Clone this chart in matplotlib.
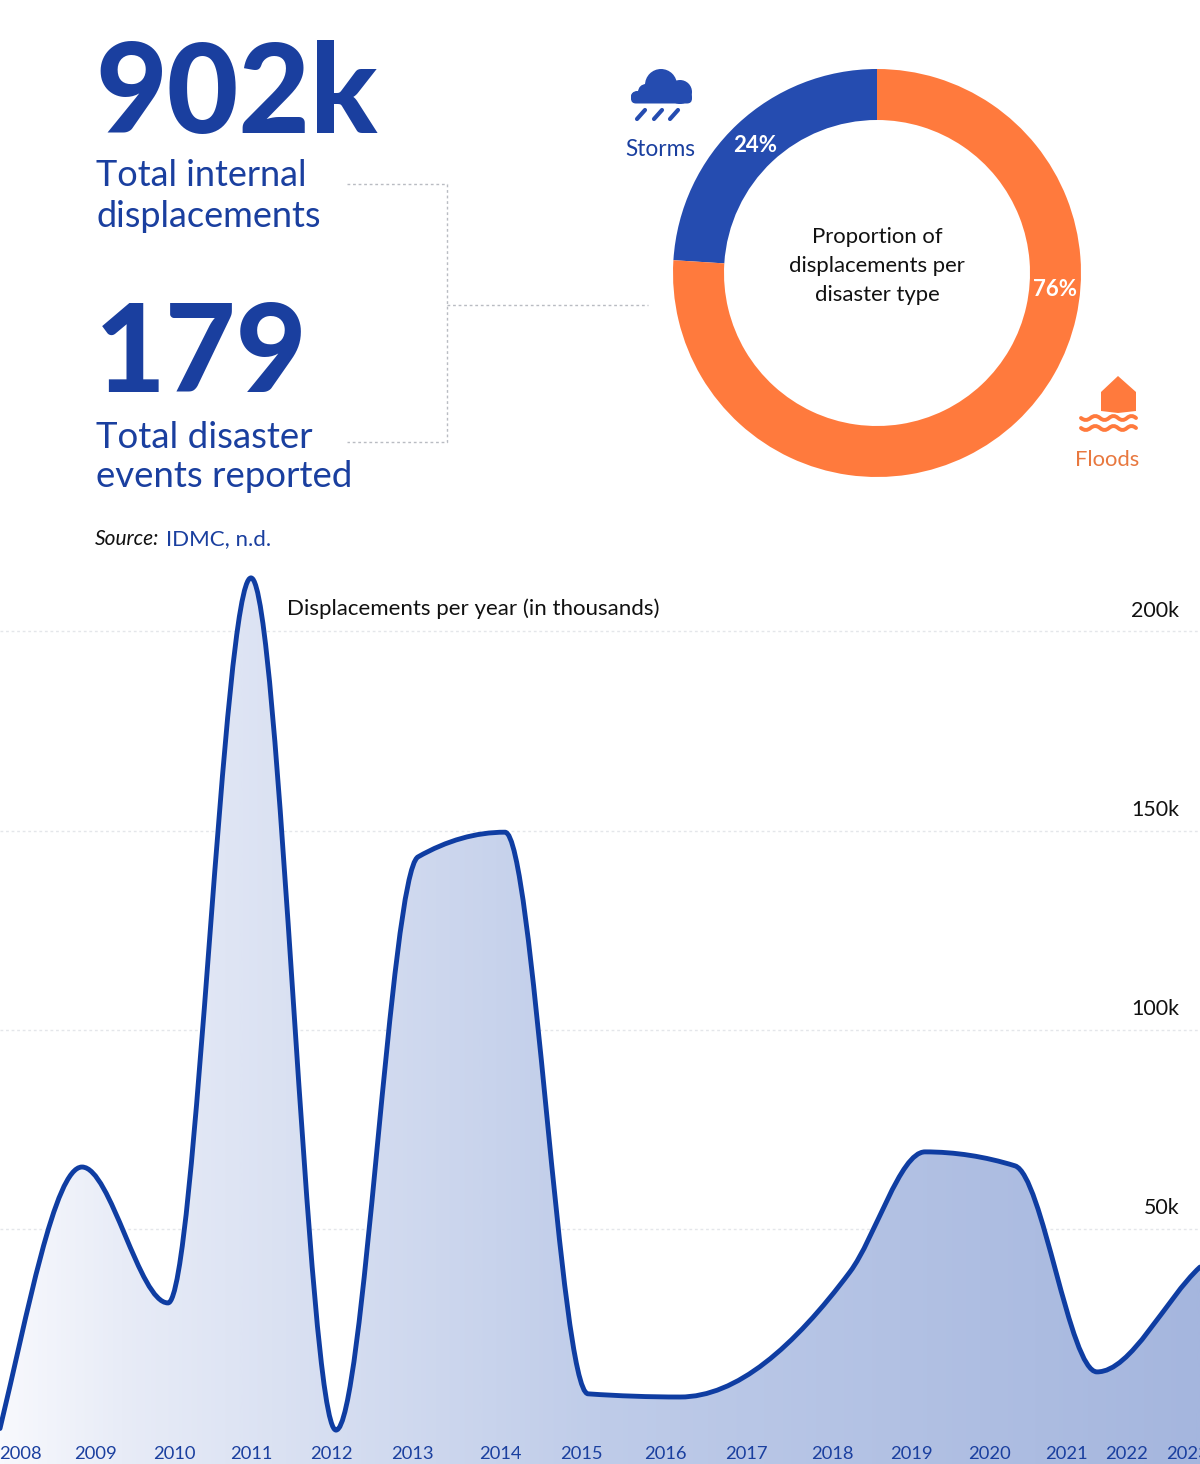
import numpy as np
import matplotlib
matplotlib.use("Agg")
import matplotlib.pyplot as plt
from matplotlib.path import Path
from matplotlib.patches import PathPatch, Circle, Polygon, FancyBboxPatch
from matplotlib.colors import LinearSegmentedColormap

plt.rcParams['font.family'] = ['Lato', 'DejaVu Sans']

# ---------- data ----------
headline_values = ["902k", "179"]
headline_labels = ["Total internal\ndisplacements", "Total disaster\nevents reported"]
donut_labels = ["Storms", "Floods"]
donut_shares = [24, 76]
years = ["2008", "2009", "2010", "2011", "2012", "2013", "2014", "2015",
         "2016", "2017", "2018", "2019", "2020", "2021", "2022", "2023"]
year_ticks = [20, 95, 174, 251, 331, 412, 500, 581,
              665, 746, 832, 911, 989, 1066, 1127, 1188]
curve_x = [0, 82, 168, 251, 336, 418, 505, 588, 680, 850, 925, 1015, 1097, 1200]
curve_k = [0, 65.6, 31.5, 213.4, -0.4, 143.4, 149.6, 8.7, 7.9, 39.3, 69.4, 65.9, 14.2, 40.5]
grid_k = [50, 100, 150, 200]
grid_labels = ["50k", "100k", "150k", "200k"]

BLUE = "#1a3f9f"
LINE = "#0f3da2"
DONUT_BLUE = "#254cb0"
ORANGE = "#ff7a3d"
FLOOD_TXT = "#e8783f"


def monotone_path(x, y):
    """Monotone-x cubic through the points, as Bezier segments."""
    x, y = np.asarray(x, float), np.asarray(y, float)
    h = np.diff(x)
    s = np.diff(y) / h
    m = np.zeros_like(x)
    for i in range(1, len(x) - 1):
        if s[i - 1] * s[i] > 0:
            p = (s[i - 1] * h[i] + s[i] * h[i - 1]) / (h[i - 1] + h[i])
            m[i] = np.sign(s[i]) * min(abs(s[i - 1]), abs(s[i]), 0.5 * abs(p)) * 2
    m[0] = 1.3 * s[0]
    m[-1] = 0.9 * s[-1]
    verts = [(x[0], y[0])]
    codes = [Path.MOVETO]
    for i in range(len(h)):
        verts += [(x[i] + h[i] / 3, y[i] + m[i] * h[i] / 3),
                  (x[i + 1] - h[i] / 3, y[i + 1] - m[i + 1] * h[i] / 3),
                  (x[i + 1], y[i + 1])]
        codes += [Path.CURVE4] * 3
    return verts, codes


fig = plt.figure(figsize=(12, 14.64), dpi=100, facecolor="white")
W, H = 1200, 1464

# ---------- area chart ----------
top_px, zero_px, per_k = 560, 1428.5, 3.986
ax = fig.add_axes([0, 0, 1, (H - top_px) / H])
ax.set_xlim(0, W)
ax.set_ylim((zero_px - H) / per_k, (zero_px - top_px) / per_k)
ax.axis("off")
for g in grid_k:
    ax.axhline(g, color="#e4e6ea", lw=1, ls=(0, (2, 2)), zorder=1)

verts, codes = monotone_path(curve_x, curve_k)
ymin = ax.get_ylim()[0]
fill_path = Path(verts + [(curve_x[-1], ymin), (curve_x[0], ymin), (curve_x[0], curve_k[0])],
                 codes + [Path.LINETO, Path.LINETO, Path.CLOSEPOLY])
cmap = LinearSegmentedColormap.from_list(
    "g", [(0, "#f8f9fd"), (0.1, "#e8ecf7"), (0.5, "#bfcce9"), (1, "#a5b6de")])
im = ax.imshow(np.linspace(0, 1, 512)[None, :], extent=[0, W, ymin, ax.get_ylim()[1]],
               aspect="auto", cmap=cmap, zorder=2)
im.set_clip_path(PathPatch(fill_path, transform=ax.transData))
ax.add_patch(PathPatch(Path(verts, codes), fc="none", ec=LINE, lw=3.5, zorder=3,
                       capstyle="round", joinstyle="round"))
ax.set_xlim(0, W)
ax.set_ylim(ymin, (zero_px - top_px) / per_k)

for yr, xt in zip(years, year_ticks):
    ax.text(xt, ymin + 2.6, yr, ha="center", va="center", fontsize=13.2, color=BLUE, zorder=4)
for g, lab in zip(grid_k, grid_labels):
    ax.text(1179, g + 5.2, lab, ha="right", va="center", fontsize=15.4, color="#111111", zorder=4)

# ---------- donut ----------
cx, cy, R = 877, 273, 204
dax = fig.add_axes([(cx - R) / W, 1 - (cy + R) / H, 2 * R / W, 2 * R / H])
dax.pie(donut_shares, colors=[DONUT_BLUE, ORANGE], startangle=90, counterclock=True,
        radius=1, wedgeprops=dict(width=51 / 204, linewidth=0))
dax.set_xlim(-1, 1)
dax.set_ylim(-1, 1)

# ---------- overlay in pixel coordinates ----------
ov = fig.add_axes([0, 0, 1, 1])
ov.set_xlim(0, W)
ov.set_ylim(H, 0)
ov.axis("off")
ov.patch.set_alpha(0)

ov.text(95, 133, headline_values[0], fontsize=89, fontweight="black", color=BLUE, va="baseline", ha="left")
ov.text(95, 392, headline_values[1], fontsize=88, fontweight="black", color=BLUE, va="baseline", ha="left")
ov.text(96, 196, headline_labels[0], fontsize=26, color=BLUE, va="center", ha="left", linespacing=1.27)
ov.text(96, 457, headline_labels[1], fontsize=26.4, color=BLUE, va="center", ha="left", linespacing=1.25)
ov.text(95, 539, "Source:", fontsize=15, style="italic", color="#111111", va="center")
ov.text(166, 539, "IDMC, n.d.", fontsize=16, color=BLUE, va="center")

dots = dict(color="#b9bcc2", lw=1, ls=(0, (2, 2)))
ov.plot([347, 447, 447, 347], [184, 184, 442, 442], **dots)
ov.plot([447, 648], [305, 305], **dots)

ov.text(877, 266, "Proportion of\ndisplacements per\ndisaster type", fontsize=15.9, color="#111111",
        ha="center", va="center", linespacing=1.58)
ov.text(755, 146, f"{donut_shares[0]}%", fontsize=16, color="white", ha="center", va="center", fontweight="bold")
ov.text(1055, 290, f"{donut_shares[1]}%", fontsize=16, color="white", ha="center", va="center", fontweight="bold")
ov.text(660, 149, donut_labels[0], fontsize=16.3, color=BLUE, ha="center", va="center")
ov.text(1107, 460, donut_labels[1], fontsize=15.8, color=FLOOD_TXT, ha="center", va="center")
ov.text(287, 609, "Displacements per year (in thousands)", fontsize=16, color="#111111", ha="left", va="center")

# cloud icon
for (x, y, r) in [(661, 85, 16), (646, 92, 8), (680, 92, 12), (637, 97, 6)]:
    ov.add_patch(Circle((x, y), r, fc=DONUT_BLUE, ec="none"))
ov.add_patch(FancyBboxPatch((631, 92), 61, 11.5, boxstyle="round,pad=0,rounding_size=5",
                            fc=DONUT_BLUE, ec="none"))
for x in (641, 658, 674):
    ov.plot([x - 4, x + 4], [119, 110], color=DONUT_BLUE, lw=3, solid_capstyle="round")

# flood icon
ov.add_patch(Polygon([(1101, 392), (1118, 376), (1136, 392), (1136, 411),
                      (1118, 413), (1101, 411)], closed=True, fc=ORANGE, ec="none"))
wave_x = np.array([1081, 1090.5, 1100, 1109, 1118, 1127, 1136], float)
for base in (418, 428):
    p = [(wave_x[0], base)]
    c = [Path.MOVETO]
    for i in range(6):
        a, b = wave_x[i], wave_x[i + 1]
        off = 4 if i % 2 == 0 else -4
        p += [((a + b) / 2, base + off), (b, base)]
        c += [Path.CURVE3, Path.CURVE3]
    ov.add_patch(PathPatch(Path(p, c), fc="none", ec=ORANGE, lw=2.8, capstyle="round"))

fig.savefig("out.png", dpi=100, facecolor="white")
